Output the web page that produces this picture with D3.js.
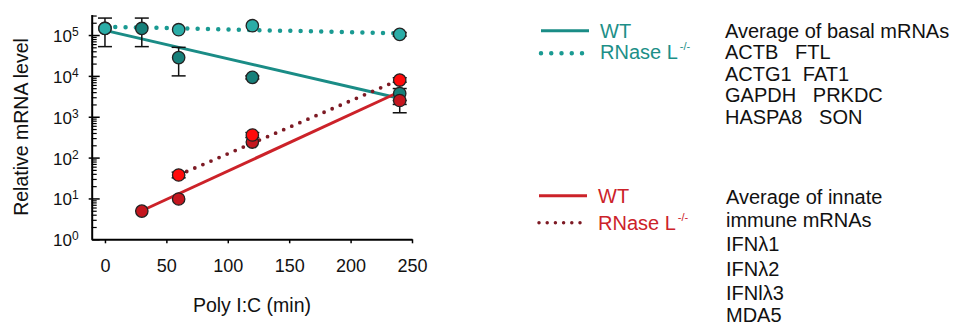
<!DOCTYPE html>
<html><head><meta charset="utf-8">
<script src="https://cdn.jsdelivr.net/npm/d3@7"></script>
<style>
html,body{margin:0;padding:0;background:#fff;}
svg{display:block;font-family:"Liberation Sans",Arial,sans-serif;}
</style></head>
<body>
<svg id="chart" width="956" height="326"></svg>
<script>
// ---------- data ----------
const xTicks = [0, 50, 100, 150, 200, 250];
const yMajor = [1, 10, 100, 1000, 10000, 100000];

// basal mRNAs, WT
const basalWT_t  = [0, 30, 60, 120, 240];
const basalWT_v  = [1.45e5, 1.45e5, 2.8e4, 9.2e3, 3.7e3];
const basalWT_lo = [5.2e4, 5.2e4, 1.0e4, 8.4e3, 2.0e3];
const basalWT_hi = [2.6e5, 2.6e5, 5.0e4, 1.0e4, 4.9e3];
// basal mRNAs, RNase L-/-
const basalKO_t  = [0, 60, 120, 240];
const basalKO_v  = [1.45e5, 1.35e5, 1.69e5, 1.04e5];
const basalKO_lo = [1.45e5, 1.35e5, 1.69e5, 9.4e4];
const basalKO_hi = [1.45e5, 1.35e5, 1.69e5, 1.15e5];
// innate immune mRNAs, WT
const innateWT_t  = [30, 60, 120, 240];
const innateWT_v  = [4.9, 9.7, 240, 2.5e3];
const innateWT_lo = [4.9, 9.7, 240, 1.25e3];
const innateWT_hi = [4.9, 9.7, 240, 2.5e3];
// innate immune mRNAs, RNase L-/-
const innateKO_t  = [60, 120, 240];
const innateKO_v  = [37.5, 357, 7.9e3];
const innateKO_lo = [32, 310, 7.0e3];
const innateKO_hi = [44, 410, 9.0e3];

// fitted trend lines (endpoints)
const fitBasalWT_t = [0, 236],  fitBasalWT_v = [1.3e5, 3.0e3];
const fitBasalKO_t = [0, 240],  fitBasalKO_v = [1.6e5, 1.1e5];
const fitInnateWT_t = [30, 236], fitInnateWT_v = [5.0, 3.6e3];
const fitInnateKO_t = [60, 236], fitInnateKO_v = [37.5, 7.2e3];

const legendLabels = ["WT", "RNase L"];
const basalText = ["Average of basal mRNAs", "ACTB   FTL", "ACTG1  FAT1", "GAPDH   PRKDC", "HASPA8   SON"];
const innateText = ["Average of innate", "immune mRNAs", "IFNλ1", "IFNλ2", "IFNlλ3", "MDA5"];

// ---------- colours ----------
const C = {
  tealLine: "#1a8c86", tealDot: "#1a9a92", tealWT: "#17807a", tealKO: "#2bada7", tealText: "#1d8f88",
  redLine: "#cc2229", redDot: "#7d1a24", redWT: "#c4161e", redKO: "#ff0b0b", redText: "#cc2229"
};

const svg = d3.select("#chart");
const x = d3.scaleLinear().domain([-10.8, 250]).range([91.7, 412]);
const y = d3.scaleLog().domain([1, Math.pow(10, 5.5)]).range([239.3, 14.6]);

// ---------- axes ----------
const minors = [];
for (let e = 0; e < 6; e++) for (let m = 2; m <= 9; m++) { const v = m * Math.pow(10, e); if (v <= Math.pow(10, 5.5)) minors.push(v); }

svg.append("g").attr("transform", "translate(91.7,0)")
  .call(d3.axisLeft(y).tickValues(minors).tickSizeInner(-5).tickSizeOuter(0).tickFormat(""))
  .call(g => g.select(".domain").remove())
  .call(g => g.selectAll("line").attr("stroke", "#000").attr("stroke-width", 1.2));

svg.append("g").attr("transform", "translate(91.7,0)")
  .call(d3.axisLeft(y).tickValues(yMajor.slice(1)).tickSizeInner(3).tickSizeOuter(0).tickFormat(""))
  .call(g => g.select(".domain").remove())
  .call(g => g.selectAll("line").attr("stroke", "#000").attr("stroke-width", 1.5));

const yAx = svg.append("g").attr("transform", "translate(91.7,0)")
  .call(d3.axisLeft(y).tickValues(yMajor).tickSizeInner(-8).tickSizeOuter(0).tickPadding(13).tickFormat(""));
yAx.select(".domain").attr("stroke", "#000").attr("stroke-width", 2);
yAx.selectAll("line").attr("stroke", "#000").attr("stroke-width", 1.5);
yAx.selectAll(".tick text").each(function(d) {
  const t = d3.select(this).attr("dy", null).attr("y", 6.5).attr("fill", "#111")
    .attr("font-size", 17).attr("font-family", "Liberation Sans, Arial, sans-serif");
  t.append("tspan").text("10");
  t.append("tspan").attr("dy", -6).attr("font-size", 12).text(Math.round(Math.log10(d)));
});

const xAx = svg.append("g").attr("transform", "translate(0,239.3)")
  .call(d3.axisBottom(x).tickValues(xTicks).tickSizeInner(4).tickSizeOuter(0).tickPadding(15.6));
xAx.select(".domain").attr("stroke", "#000").attr("stroke-width", 2);
xAx.selectAll("line").attr("stroke", "#000").attr("stroke-width", 1.5);
xAx.selectAll("text").attr("font-size", 18).attr("fill", "#111").attr("font-family", "Liberation Sans, Arial, sans-serif");

svg.append("text").attr("x", 252).attr("y", 311.7).attr("text-anchor", "middle")
  .attr("font-size", 19.5).attr("fill", "#111").text("Poly I:C (min)");
svg.append("text").attr("transform", "translate(28,127) rotate(-90)").attr("text-anchor", "middle")
  .attr("font-size", 19.5).attr("fill", "#111").text("Relative mRNA level");

// ---------- trend lines ----------
const line = d3.line().x(d => x(d[0])).y(d => y(d[1]));
const zip = (a, b) => a.map((v, i) => [v, b[i]]);
svg.append("path").datum(zip(fitBasalWT_t, fitBasalWT_v)).attr("d", line)
  .attr("stroke", C.tealLine).attr("stroke-width", 3).attr("fill", "none");
svg.append("path").datum(zip(fitBasalKO_t, fitBasalKO_v)).attr("d", line)
  .attr("stroke", C.tealDot).attr("stroke-width", 4.5).attr("stroke-linecap", "round").attr("stroke-dasharray", "0 10.3").attr("fill", "none");
svg.append("path").datum(zip(fitInnateWT_t, fitInnateWT_v)).attr("d", line)
  .attr("stroke", C.redLine).attr("stroke-width", 3).attr("fill", "none");
svg.append("path").datum(zip(fitInnateKO_t, fitInnateKO_v)).attr("d", line)
  .attr("stroke", C.redDot).attr("stroke-width", 3.8).attr("stroke-linecap", "round").attr("stroke-dasharray", "0 8.8").attr("fill", "none");

// ---------- points with error bars ----------
function series(t, v, lo, hi, fill) {
  const d = t.map((tt, i) => ({ t: tt, v: v[i], lo: lo[i], hi: hi[i] }));
  const g = svg.append("g");
  const eb = d.filter(p => p.hi > p.lo);
  const gEb = g.append("g").attr("stroke", "#111").attr("stroke-width", 1.5);
  eb.forEach(p => {
    gEb.append("line").attr("x1", x(p.t)).attr("x2", x(p.t)).attr("y1", y(p.lo)).attr("y2", y(p.hi));
    gEb.append("line").attr("x1", x(p.t) - 7).attr("x2", x(p.t) + 7).attr("y1", y(p.lo)).attr("y2", y(p.lo));
    gEb.append("line").attr("x1", x(p.t) - 7).attr("x2", x(p.t) + 7).attr("y1", y(p.hi)).attr("y2", y(p.hi));
  });
  g.selectAll("circle").data(d).join("circle")
    .attr("cx", p => x(p.t)).attr("cy", p => y(p.v)).attr("r", 6.2)
    .attr("fill", fill).attr("stroke", "#222").attr("stroke-width", 1.3);
}
series(basalWT_t, basalWT_v, basalWT_lo, basalWT_hi, C.tealWT);
series(basalKO_t, basalKO_v, basalKO_lo, basalKO_hi, C.tealKO);
series(innateWT_t, innateWT_v, innateWT_lo, innateWT_hi, C.redWT);
series(innateKO_t, innateKO_v, innateKO_lo, innateKO_hi, C.redKO);

// ---------- legends ----------
function legend(x0, x1, yLine, yDot, xDotEnd, txtX, ySolidTxt, yDotTxt, lineCol, dotCol, txtCol, dotW, dotGap) {
  svg.append("line").attr("x1", x0).attr("x2", x1).attr("y1", yLine).attr("y2", yLine)
    .attr("stroke", lineCol).attr("stroke-width", 3);
  svg.append("line").attr("x1", x0).attr("x2", xDotEnd + 0.1).attr("y1", yDot).attr("y2", yDot)
    .attr("stroke", dotCol).attr("stroke-width", dotW).attr("stroke-linecap", "round").attr("stroke-dasharray", "0 " + dotGap);
  svg.append("text").attr("x", txtX).attr("y", ySolidTxt).attr("font-size", 20).attr("fill", txtCol).text(legendLabels[0]);
  const t = svg.append("text").attr("x", txtX).attr("y", yDotTxt).attr("font-size", 20).attr("fill", txtCol);
  t.append("tspan").text(legendLabels[1]);
  t.append("tspan").attr("dy", -9).attr("dx", 2).attr("font-size", 11).text("-/-");
}
legend(541, 589, 30.7, 53.3, 582, 600, 37.7, 59.3, C.tealLine, C.tealDot, C.tealText, 4.5, 10.25);
legend(539, 587, 195.7, 222.7, 580, 598, 203.3, 230, C.redLine, C.redDot, C.redText, 3.5, 8.2);

// ---------- gene lists ----------
svg.append("g").selectAll("text").data(basalText).join("text")
  .attr("x", 725).attr("y", (d, i) => 37.5 + i * 21.5).attr("font-size", 20).attr("fill", "#111")
  .style("white-space", "pre").text(d => d);
const innateY = [204.3, 226.7, 251, 276, 300, 321.7];
svg.append("g").selectAll("text").data(innateText).join("text")
  .attr("x", 726).attr("y", (d, i) => innateY[i]).attr("font-size", 20).attr("fill", "#111")
  .style("white-space", "pre").text(d => d);
</script>
</body></html>
